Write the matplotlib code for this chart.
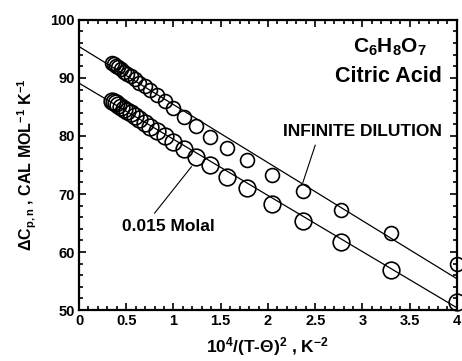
import numpy as np
import matplotlib
matplotlib.use("Agg")
import matplotlib.pyplot as plt
from matplotlib.ticker import MultipleLocator

plt.rcParams['font.family'] = ['Liberation Sans', 'DejaVu Sans']
plt.rcParams['font.weight'] = 'bold'
plt.rcParams['axes.labelweight'] = 'bold'
plt.rcParams['mathtext.fontset'] = 'custom'
plt.rcParams['mathtext.rm'] = 'Liberation Sans:bold'
plt.rcParams['mathtext.it'] = 'Liberation Sans:bold'
plt.rcParams['mathtext.bf'] = 'Liberation Sans:bold'
plt.rcParams['mathtext.default'] = 'bf'

# 10^4/(T-theta)^2 values
x_vals = [0.346, 0.367, 0.391, 0.416, 0.444, 0.476, 0.510, 0.549, 0.592, 0.640,
          0.694, 0.756, 0.826, 0.907, 1.000, 1.108, 1.235, 1.384, 1.563, 1.778,
          2.041, 2.367, 2.778, 3.306, 4.000]
# infinite dilution
cp_inf = [92.6, 92.35, 92.1, 91.8, 91.5, 91.1, 90.7, 90.3, 89.8, 89.2,
          88.6, 87.9, 87.1, 86.0, 84.9, 83.3, 81.7, 79.9, 77.9, 75.8,
          73.3, 70.5, 67.2, 63.3, 58.0]
# 0.015 molal
cp_015 = [86.1, 85.9, 85.6, 85.3, 85.0, 84.7, 84.3, 83.9, 83.4, 82.9,
          82.3, 81.6, 80.9, 80.0, 78.9, 77.7, 76.4, 75.0, 72.9, 71.0,
          68.3, 65.4, 61.7, 56.9, 51.4]
# fitted lines
line_x = [0.0, 4.0]
line_inf = [95.4, 55.4]
line_015 = [89.1, 50.4]

fig = plt.figure(figsize=(4.62, 3.61), dpi=100)
ax = fig.add_axes([0.171, 0.141, 0.818, 0.804])

ax.plot(line_x, line_inf, color='black', lw=0.9)
ax.plot(line_x, line_015, color='black', lw=0.9)
ax.plot(x_vals, cp_inf, 'o', mfc='none', mec='black', ms=10, mew=1.2, clip_on=False)
ax.plot(x_vals, cp_015, 'o', mfc='none', mec='black', ms=12, mew=1.2, clip_on=False)

ax.set_xlim(0, 4)
ax.set_ylim(50, 100)
ax.xaxis.set_minor_locator(MultipleLocator(0.1))
ax.yaxis.set_major_locator(MultipleLocator(10))
ax.yaxis.set_minor_locator(MultipleLocator(2))
ax.set_xticks([0, 0.5, 1, 1.5, 2, 2.5, 3, 3.5, 4])
ax.set_xticklabels(['0', '0.5', '1', '1.5', '2', '2.5', '3', '3.5', '4'])
ax.tick_params(which='both', direction='in', top=True, right=True, labelsize=10.5, width=1.2)
ax.tick_params(which='major', length=5, pad=3)
ax.tick_params(which='minor', length=3)
for lbl in ax.get_xticklabels() + ax.get_yticklabels():
    lbl.set_fontweight('bold')
for s in ax.spines.values():
    s.set_linewidth(1.6)

ax.set_xlabel(r'10$^4$/(T-$\Theta$)$^2$ , K$^{-2}$', fontsize=12.5, fontweight='bold', labelpad=5)
ax.set_ylabel(r'$\Delta$C$_{p,n}$ , CAL MOL$^{-1}$ K$^{-1}$', fontsize=11.5, fontweight='bold', labelpad=8)

ax.text(3.68, 95.3, r'C$_6$H$_8$O$_7$', fontsize=15, ha='right', va='center')
ax.text(3.84, 90.2, 'Citric Acid', fontsize=15.5, ha='right', va='center')
ax.text(3.0, 80.7, 'INFINITE DILUTION', fontsize=12.5, ha='center', va='center')
ax.plot([2.50, 2.37], [78.4, 72.0], color='black', lw=0.8)
ax.text(0.95, 64.4, '0.015 Molal', fontsize=12.5, ha='center', va='center')
ax.plot([0.80, 1.19], [66.7, 74.7], color='black', lw=0.8)

fig.savefig('out.png', dpi=100)
